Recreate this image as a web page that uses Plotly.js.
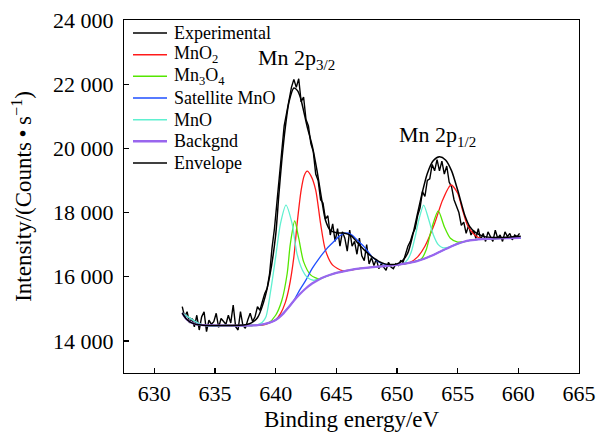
<!DOCTYPE html>
<html><head><meta charset="utf-8">
<script src="https://cdn.plot.ly/plotly-3.0.1.min.js"></script>
<style>html,body{margin:0;padding:0;background:#fff}</style>
</head><body><div id="chart" style="width:597px;height:434px"></div>
<script>
// ---- data ----
const seriesNames = ['Experimental', 'MnO<sub>2</sub>', 'Mn<sub>3</sub>O<sub>4</sub>', 'Satellite MnO', 'MnO', 'Backgnd', 'Envelope'];
const seriesColors = ['#000000', '#ff1a1a', '#55e600', '#1f4fff', '#5ff0d0', '#9966ee', '#000000'];

const expX = [632.3,632.5,632.7,632.9,633.1,633.3,633.5,633.7,633.9,634.1,634.3,634.5,634.7,634.9,635.1,635.3,635.5,635.7,635.9,636.1,636.3,636.5,636.7,636.9,637.1,637.3,637.5,637.7,637.9,638.1,638.3,638.5,638.7,638.9,639.1,639.3,639.5,639.7,639.9,640.1,640.3,640.5,640.7,640.9,641.1,641.3,641.5,641.7,641.9,642.1,642.3,642.5,642.7,642.9,643.1,643.3,643.5,643.7,643.9,644.1,644.3,644.5,644.7,644.9,645.1,645.3,645.5,645.7,645.9,646.1,646.3,646.5,646.7,646.9,647.1,647.3,647.5,647.7,647.9,648.1,648.3,648.5,648.7,648.9,649.1,649.3,649.5,649.7,649.9,650.1,650.3,650.5,650.7,650.9,651.1,651.3,651.5,651.7,651.9,652.1,652.3,652.5,652.7,652.9,653.1,653.3,653.5,653.7,653.9,654.1,654.3,654.5,654.7,654.9,655.1,655.3,655.5,655.7,655.9,656.1,656.3,656.5,656.7,656.9,657.1,657.3,657.5,657.7,657.9,658.1,658.3,658.5,658.7,658.9,659.1,659.3,659.5,659.7,659.9,660.1];
const expY = [15070,14750,14910,14560,14700,14440,14800,14340,14750,14910,14290,14650,14520,14600,14860,14420,14700,14600,14520,14800,14560,15120,14440,14340,14910,14480,14390,14650,14860,14600,14750,15070,14950,15220,15480,15640,16100,16900,17500,18300,19100,19900,20700,21100,21500,21900,22150,21900,22170,21450,21600,20900,20700,20150,19900,19200,19000,18400,18300,17800,17900,17300,17650,17100,17500,16950,17400,17200,16800,17450,16950,17100,16700,17200,16650,16500,17000,16400,16600,16350,16550,16250,16400,16300,16200,16450,16300,16250,16400,16350,16500,16450,16700,16950,17100,17350,17500,17900,18150,18650,18500,19000,19050,19500,19300,19650,19300,19600,19200,19450,18950,18800,18400,18200,18000,17600,17700,17350,17600,17300,17450,17200,17500,17150,17350,17100,17400,17250,17100,17450,17200,17300,17100,17400,17250,17350,17150,17300,17250,17350];

const mno2X = [632.3,634,636,638,639,639.5,640,640.4,640.8,641.1,641.5,641.77,642.1,642.35,642.6,642.9,643.3,643.7,644.1,644.7,645.5,646,647,648,649,650,651,651.7,652.3,653.1,653.76,654.45,655,655.4,655.8,656.4,657,658,659,660.2];
const mno2Y = [14870,14490,14480,14480,14500,14570,14660,14850,15200,15650,16620,17660,18700,19150,19290,19150,18700,17660,16830,16360,16190,16200,16260,16300,16330,16370,16430,16620,16950,17660,18390,18860,18600,18080,17610,17300,17180,17190,17200,17210];

const mn3o4X = [632.3,634,636,638,638.8,639.4,640,640.5,640.95,641.2,641.57,641.9,642.3,642.9,643.6,644,645,646,647,648,649,650,651,651.5,652,652.4,652.9,653.4,653.9,654.4,655,655.5,656,657,658,659,660.2];
const mn3o4Y = [14870,14490,14480,14480,14500,14560,14800,15250,16100,17000,17740,17200,16470,16050,15930,15990,16120,16200,16260,16300,16330,16370,16430,16480,16550,16830,17560,18050,17560,17200,17080,17090,17130,17170,17190,17200,17210];

const satX = [632.3,634,636,638,639,640,641,641.4,642,642.5,643,643.6,644.2,644.7,645.2,645.7,646.2,646.7,647.3,648,648.7,649.5,650,651,652,653,654,655,656,657,658,659,660.2];
const satY = [14870,14490,14480,14480,14520,14650,15020,15200,15600,15900,16250,16580,16870,17060,17250,17360,17320,17150,16930,16600,16420,16360,16370,16430,16530,16680,16860,17030,17130,17170,17190,17200,17210];

const mnoX = [632.3,634,636,638,638.5,638.9,639.2,639.6,640,640.4,640.85,641.35,641.75,642.2,642.6,643.1,643.5,644,645,646,647,648,649,650,650.5,650.9,651.2,651.5,651.8,652.2,652.6,653,653.4,653.8,654.3,654.8,655.5,656,657,658,659,660.2];
const mnoY = [14870,14490,14480,14480,14500,14580,14750,15590,16620,17660,18230,17660,16730,16210,15980,15890,15920,15990,16120,16200,16260,16300,16330,16370,16400,16550,16800,17250,17770,18230,17800,17300,17000,16900,16920,16990,17090,17130,17170,17190,17200,17210];

const bgX = [632.3,632.6,633,633.5,634,636,638,638.5,639,639.5,640,640.5,641,641.5,642,642.5,643,643.5,644,644.5,645,646,647,648,649,650,651,651.5,652,652.5,653,653.5,654,654.5,655,655.5,656,657,658,659,660.2];
const bgY = [14870,14700,14580,14510,14490,14480,14480,14490,14520,14570,14650,14800,15020,15250,15460,15640,15790,15900,15990,16060,16120,16200,16260,16300,16330,16370,16430,16470,16530,16600,16680,16770,16860,16950,17030,17090,17130,17170,17190,17200,17210];

const envX = [632.3,632.6,633,633.5,634,636,637,637.6,638,638.5,639,639.5,640,640.25,640.5,640.8,641.1,641.5,641.8,642.05,642.6,643,643.4,643.8,644.1,644.5,645,645.6,646.2,647,647.5,648,648.5,649,649.5,650,650.5,650.9,651.3,651.7,652.1,652.5,653,653.5,654,654.5,655,655.3,655.6,656,656.4,657.2,658,659,660.2];
const envY = [14870,14700,14580,14510,14490,14480,14485,14510,14560,14720,15200,16000,17300,18500,19600,20670,21450,21880,21800,21570,20670,20100,19320,18390,17770,17450,17370,17360,17280,16950,16760,16600,16480,16400,16380,16400,16520,16750,17300,17980,18650,19220,19620,19740,19640,19300,18700,18290,17900,17560,17400,17250,17220,17230,17260];

const xTickVals = [630, 635, 640, 645, 650, 655, 660, 665];
const xTickText = ['630', '635', '640', '645', '650', '655', '660', '665'];
const yTickVals = [14000, 16000, 18000, 20000, 22000, 24000];
const yTickText = ['14 000', '16 000', '18 000', '20 000', '22 000', '24 000'];

const xTitle = 'Binding energy/eV';
const yTitle = 'Intensity/(Counts\u2009\u2022\u2009s<sup>\u22121</sup>)';
const peakLabels = ['Mn 2p<sub><span style="font-size:15px">3/2</span></sub>', 'Mn 2p<sub><span style="font-size:15px">1/2</span></sub>'];

// ---- figure ----
const FONT = 'Liberation Serif, Times New Roman, serif';
const W = 597, H = 434, L = 124, R = 18, T = 20, B = 61;
const pw = W - L - R, ph = H - T - B;

const series = [
  [expX, expY, 1.4, 'linear'],
  [mno2X, mno2Y, 1.3, 'spline'],
  [mn3o4X, mn3o4Y, 1.3, 'spline'],
  [satX, satY, 1.3, 'spline'],
  [mnoX, mnoY, 1.3, 'spline'],
  [bgX, bgY, 2.2, 'spline'],
  [envX, envY, 1.5, 'spline']
];
const traces = series.map((s, i) => ({
  type: 'scatter', mode: 'lines', x: s[0], y: s[1], name: seriesNames[i],
  line: {color: seriesColors[i], width: s[2], shape: s[3], smoothing: 0.7},
  showlegend: false, hoverinfo: 'skip'
}));

// manual legend (matching the original compact spacing)
const legRowsPx = [33, 54.7, 76.3, 98, 119.7, 141.3, 163];
const shapes = [], annotations = [];
legRowsPx.forEach((py, i) => {
  const yp = (H - B - py) / ph;
  shapes.push({type: 'line', xref: 'paper', yref: 'paper', x0: (133 - L) / pw, x1: (167 - L) / pw, y0: yp, y1: yp,
    line: {color: seriesColors[i], width: i === 5 ? 2.5 : 1.5}});
  annotations.push({xref: 'paper', yref: 'paper', x: (172 - L) / pw, y: yp, xanchor: 'left', yanchor: 'middle',
    text: seriesNames[i], showarrow: false, font: {family: FONT, size: 18, color: '#000'}});
});
annotations.push({xref: 'x', yref: 'y', x: 641.7, y: 22800, text: peakLabels[0], showarrow: false,
  font: {family: FONT, size: 22, color: '#000'}});
annotations.push({xref: 'x', yref: 'y', x: 653.3, y: 20400, text: peakLabels[1], showarrow: false,
  font: {family: FONT, size: 22, color: '#000'}});

const axisCommon = {
  showline: true, mirror: true, linecolor: '#000', linewidth: 1.2, ticks: 'inside', ticklen: 5,
  tickcolor: '#000', tickwidth: 1.2, showgrid: false, zeroline: false,
  tickfont: {family: FONT, size: 22, color: '#000'}, tickmode: 'array'
};
const layout = {
  width: W, height: H, margin: {l: L, r: R, t: T, b: B},
  paper_bgcolor: '#fff', plot_bgcolor: '#fff', showlegend: false,
  xaxis: Object.assign({}, axisCommon, {range: [627.5, 665], tickvals: xTickVals, ticktext: xTickText,
    ticklabelstandoff: 0,
    title: {text: xTitle, font: {family: FONT, size: 23, color: '#000'}, standoff: 6}}),
  yaxis: Object.assign({}, axisCommon, {range: [13000, 24000], tickvals: yTickVals, ticktext: yTickText,
    ticklabelstandoff: 5,
    title: {text: yTitle, font: {family: FONT, size: 23, color: '#000'}, standoff: 14}}),
  shapes: shapes, annotations: annotations
};
Plotly.newPlot('chart', traces, layout, {staticPlot: true, displayModeBar: false});
</script>
</body></html>
